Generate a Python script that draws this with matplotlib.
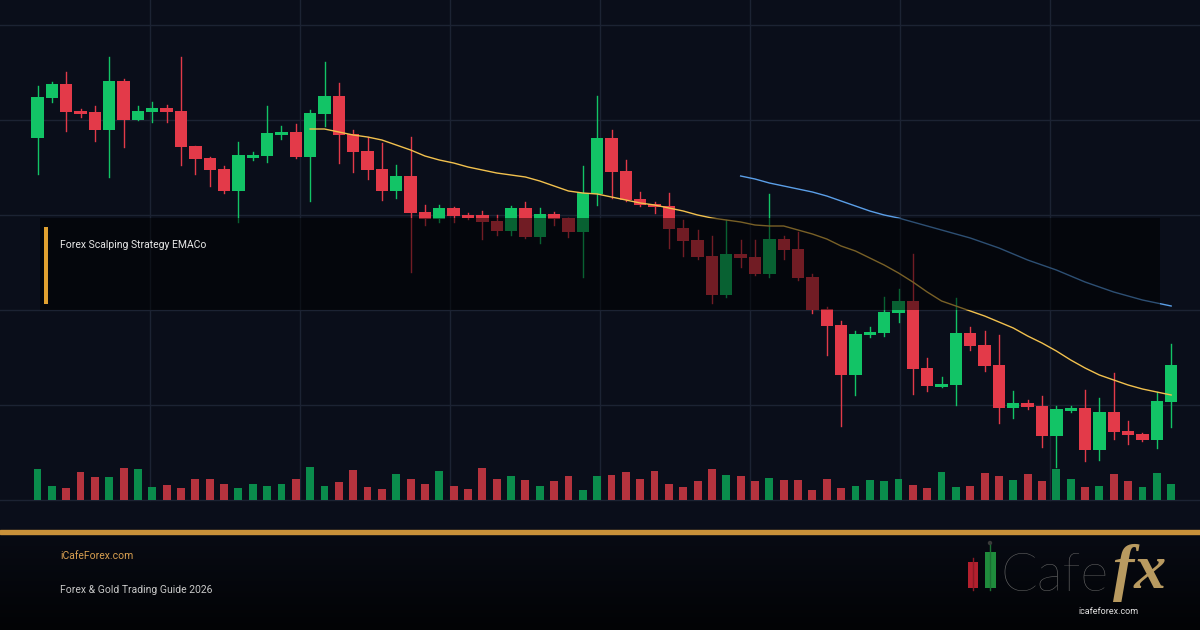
import numpy as np
import matplotlib
matplotlib.use("Agg")
import matplotlib.pyplot as plt
from matplotlib.patches import Rectangle, Circle

# candle data (arbitrary price units), 80 sessions
opens = [462, 502, 516, 489, 488, 470, 519, 480, 488, 492, 489, 454, 442, 431, 409, 442, 444, 465, 468, 443,
         486, 504, 466, 449, 431, 409, 424, 388, 381, 392, 385, 385, 379, 369, 392, 363, 386, 382, 368, 406,
         462, 429, 401, 396, 394, 372, 360, 344, 305, 346, 343, 326, 361, 351, 323, 291, 275, 225, 265, 267,
         287, 299, 232, 213, 215, 267, 255, 235, 192, 197, 194, 164, 189, 192, 150, 188, 169, 166, 160, 198]
highs = [514, 518, 528, 491, 494, 543, 521, 494, 498, 495, 543, 454, 443, 434, 458, 448, 494, 474, 476, 490,
         538, 517, 470, 463, 457, 435, 463, 395, 395, 393, 387, 389, 385, 394, 398, 392, 388, 382, 434, 504,
         470, 440, 408, 398, 407, 380, 370, 364, 380, 360, 360, 406, 364, 368, 326, 293, 279, 269, 273, 303,
         311, 346, 242, 223, 302, 273, 269, 265, 209, 200, 204, 194, 194, 210, 202, 227, 179, 167, 208, 256]
lows = [426, 498, 469, 483, 459, 423, 453, 480, 478, 478, 435, 426, 414, 407, 378, 440, 438, 461, 442, 399,
        474, 437, 428, 421, 400, 402, 328, 375, 378, 378, 381, 361, 365, 365, 362, 357, 375, 363, 323, 395,
        402, 399, 394, 387, 352, 344, 341, 297, 303, 333, 325, 323, 341, 320, 287, 245, 174, 205, 263, 264,
        278, 206, 209, 213, 195, 250, 229, 177, 182, 191, 153, 133, 188, 139, 140, 161, 156, 159, 152, 173]
closes = [503, 516, 488, 486, 470, 519, 480, 489, 492, 488, 453, 441, 430, 409, 445, 445, 467, 468, 443, 487,
          504, 465, 448, 430, 409, 424, 387, 381, 392, 384, 382, 378, 369, 392, 363, 386, 381, 368, 407, 462,
          428, 400, 395, 393, 371, 359, 343, 305, 346, 342, 326, 361, 350, 322, 290, 274, 225, 266, 268, 288,
          299, 231, 214, 216, 267, 254, 234, 192, 197, 193, 164, 191, 192, 150, 188, 168, 165, 160, 199, 235]
volume = [31, 14, 12, 28, 23, 23, 32, 31, 13, 15, 12, 21, 21, 16, 12, 16, 14, 16, 21, 33,
          14, 18, 30, 13, 11, 26, 21, 16, 29, 14, 11, 32, 21, 24, 20, 14, 19, 24, 10, 24,
          25, 28, 21, 29, 16, 13, 19, 31, 25, 24, 19, 22, 20, 20, 10, 21, 12, 14, 20, 19,
          21, 15, 12, 28, 13, 14, 27, 24, 20, 26, 19, 31, 21, 13, 14, 26, 19, 13, 27, 16]
vol_up = "GGRRRGRGGRRRRRGGGGRGGRRRRGRRGRRRRGRGRRGG" \
         "RRRRRRRRGRRGRRRRRGGGGRRGGRRRGRRGGRGRRGG"
# fast EMA starts on candle 20, slow EMA on candle 50
ema_fast = [471, 471, 468, 465, 463, 460, 455, 450, 444, 440, 437, 433, 430, 427, 425, 423, 419, 414, 409, 407,
            406, 403, 400, 397, 395, 392, 389, 385, 382, 380, 378, 375, 374, 374, 370, 366, 361, 354, 349, 342,
            335, 327, 318, 308, 299, 294, 289, 284, 278, 272, 264, 257, 249, 240, 232, 225, 220, 215, 211, 208, 205]
ema_slow = [424, 421, 417, 414, 411, 408, 404, 399, 394, 389, 385, 382, 378, 374, 370, 366, 362, 357, 352, 346,
            340, 335, 330, 324, 318, 313, 308, 304, 300, 297, 294]

BG = "#0a0e1a"
GRID = "#1c2333"
UP, DOWN = "#12c466", "#e33a49"
VUP, VDOWN = "#0a8c4c", "#b5333e"

fig = plt.figure(figsize=(12, 6.3), dpi=100)
fig.patch.set_facecolor(BG)

# background / pixel-space layer
bg = fig.add_axes([0, 0, 1, 1])
bg.set_xlim(0, 1200)
bg.set_ylim(630, 0)
bg.axis("off")
for gx in range(150, 1200, 150):
    bg.plot([gx, gx], [0, 500], color=GRID, lw=1, zorder=1)
for gy in [25, 120, 215, 310, 405, 500]:
    bg.plot([0, 1200], [gy, gy], color=GRID, lw=1, zorder=1)

# footer with gradient
grad = np.linspace(0, 1, 100).reshape(-1, 1)
bg.imshow(grad, extent=[0, 1200, 630, 533], cmap=matplotlib.colors.LinearSegmentedColormap.from_list(
    "f", ["#080b14", "#020305"]), aspect="auto", zorder=2)
bg.add_patch(Rectangle((0, 530), 1200, 4, color="#c9913a", zorder=3))

n = len(opens)
x = np.arange(n)
x0 = -37.5 / 14.35
x1 = x0 + 1200 / 14.35

# volume
axv = fig.add_axes([0, 130 / 630, 1, 475 / 630])
axv.set_xlim(x0, x1)
axv.set_ylim(0, 475)
axv.axis("off")
axv.patch.set_alpha(0)
vcols = [VUP if c == "G" else VDOWN for c in vol_up]
axv.bar(x, volume, width=0.55, color=vcols, zorder=2)

# price
ax = fig.add_axes([0, 130 / 630, 1, 475 / 630])
ax.set_xlim(x0, x1)
ax.set_ylim(100, 575)
ax.axis("off")
ax.patch.set_alpha(0)
for i in range(n):
    c = UP if closes[i] >= opens[i] else DOWN
    ax.plot([i, i], [lows[i], highs[i]], color=c, lw=1.0, zorder=3)
    lo = min(opens[i], closes[i])
    h = max(abs(closes[i] - opens[i]), 1.5)
    ax.add_patch(Rectangle((i - 0.43, lo), 0.86, h, color=c, lw=0, zorder=4))
ax.plot(x[19:], ema_fast, color="#f2c14e", lw=1.0, zorder=5)
ax.plot(x[49:], ema_slow, color="#5b9fe8", lw=1.0, zorder=5)

# title overlay panel
ov = fig.add_axes([0, 0, 1, 1])
ov.set_xlim(0, 1200)
ov.set_ylim(630, 0)
ov.axis("off")
ov.patch.set_alpha(0)
ov.add_patch(Rectangle((40, 218), 1120, 92, color="#000000", alpha=0.5, lw=0))
ov.add_patch(Rectangle((44, 227), 4, 77, color="#e0a030", lw=0))
ov.text(60, 245, "Forex Scalping Strategy EMACo", color="#e8e8e8", fontsize=7.5,
        family="Roboto", va="center")

# footer texts
ov.text(60, 556, "iCafeForex.com", color="#d9a050", fontsize=7.5, family="Roboto", va="center")
ov.text(60, 590, "Forex & Gold Trading Guide 2026", color="#c8c8c8", fontsize=7.5,
        family="Roboto", va="center")

# logo
ov.plot([973, 973], [558, 590], color="#8a1a25", lw=1)
ov.add_patch(Rectangle((968, 562), 10, 26, color="#b3202e", lw=0))
ov.plot([990, 990], [545, 590], color="#1a6e32", lw=1)
ov.add_patch(Circle((990, 543), 2.2, color="#3a3a3a", lw=0))
ov.add_patch(Rectangle((985, 552), 11, 36, color="#1f8b3c", lw=0))
ov.text(1000, 591, "Cafe", color="#666666", fontsize=39, family="Lato", weight="light", va="baseline")
ov.text(1113, 588, "fx", color="#b89a60", fontsize=46, family="Liberation Serif",
        style="italic", weight="bold", va="baseline")
ov.text(1108, 611, "icafeforex.com", color="#e0e0e0", fontsize=6.5, family="Roboto",
        ha="center", va="center")

fig.savefig("out.png", dpi=100, facecolor=BG)
